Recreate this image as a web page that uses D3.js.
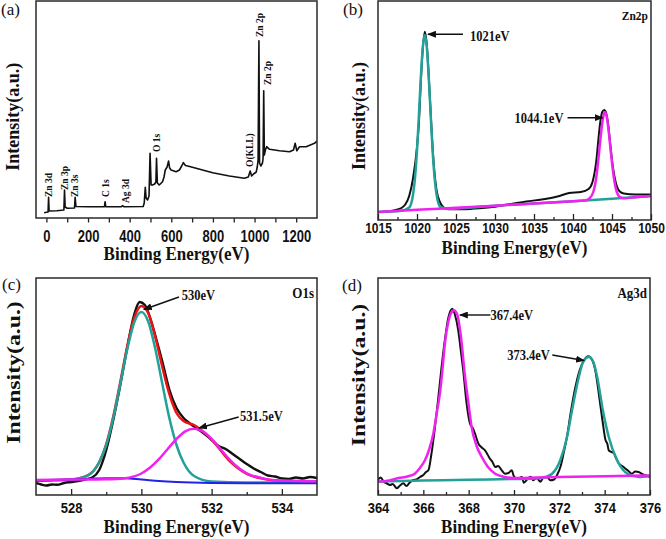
<!DOCTYPE html>
<html>
<head>
<meta charset="utf-8">
<script src="https://cdn.jsdelivr.net/npm/d3@7"></script>
<style>
  body { margin: 0; background: #fff; }
  svg { display: block; }
</style>
</head>
<body>
<div id="xps"></div>
<script>
// --------------------------------------------------
// XPS spectra, four panels (a.u.)

// (a) survey: [binding energy, intensity]
var surveyData = [[-11,5.3],[0,5.7],[8,6],[10.5,20.7],[13,7],[50,7.3],[84,8],[87,28],[90,11],[100,9.7],
    [135,10],[138,20.7],[142,11.5],[200,11.3],[279,11.3],[282,16.3],[285,11.3],[360,11.3],[366,12.3],
    [372,11.3],[465,11.5],[470,15],[475,30.7],[479,20],[486,18],[493,22],[498,64.7],[503,33],[510,33],
    [520,34],[526,36],[529,59.7],[533,35],[542,33],[558,36.3],[565,41],[571,48],[580,51],[587,57],
    [592,50],[599,48],[623,46.3],[639,48],[650,52],[658,55.3],[668,52.5],[679,52],[719,49.7],[799,45.3],
    [879,42],[951,39.7],[970,41],[979,47],[986,42],[995,44],[1008,46],[1013,51],[1017,58],[1021,177.3],
    [1024,55],[1030,52],[1038,55],[1041,60],[1044,127.3],[1047,63],[1052,68],[1058,71.3],[1072,68.7],
    [1120,67.3],[1168,66.3],[1187,68],[1195,74.7],[1203,67.3],[1216,71.3],[1248,71.3],[1288,74.7],[1300,77]];
var surveyTicks = [0, 200, 400, 600, 800, 1000, 1200];
var surveyMinor = [100, 300, 500, 700, 900, 1100];
var surveyPeaks = [
    { name: "Zn 3d", e: 10, i: 21 }, { name: "Zn 3p", e: 87, i: 28 }, { name: "Zn 3s", e: 138, i: 21 },
    { name: "C 1s", e: 283, i: 21 }, { name: "Ag 3d", e: 380, i: 15 }, { name: "O 1s", e: 529, i: 66 },
    { name: "O(KLL)", e: 978, i: 51 }, { name: "Zn 2p", e: 1026, i: 181 }, { name: "Zn 2p", e: 1063, i: 133 }];

// (b) Zn 2p
var zn2pRaw = [[1015,8],[1016,8.5],[1017,9.5],[1017.5,10.5],[1018,12],[1018.5,15.5],[1019,24],[1019.5,42],
    [1020,73],[1020.25,98],[1020.5,140],[1020.75,172],[1021,188.3],[1021.25,176],[1021.5,145],[1021.75,108],
    [1022,72],[1022.5,30],[1023,17],[1023.5,12],[1024,10.7],[1026,10.8],[1028,11.7],[1030,13.3],[1032,16],
    [1034,18.5],[1036,20.5],[1038,23.5],[1039.5,27],[1041,28],[1042,31],[1042.5,38],[1043,60],[1043.25,80],
    [1043.5,98],[1043.75,108],[1044,110],[1044.25,107],[1044.5,96],[1044.75,78],[1045,60],[1045.5,37],
    [1046,28.5],[1046.5,26.5],[1048,25.5],[1050,25.5]];
var zn2pFit1021 = [[1015,8],[1018,9.3],[1019,12.5],[1019.5,25.8],[1019.75,42.7],[1020,69.7],[1020.25,105.4],
    [1020.5,143.6],[1020.75,173.4],[1021,185],[1021.25,173.4],[1021.5,143.6],[1021.75,105.4],[1022,69.7],
    [1022.25,42.7],[1022.5,25.8],[1023,13],[1024,11.2],[1030,14.3],[1035,16.6],[1040,18.8],[1045,21.2],[1050,24]];
var zn2pFit1044 = [[1015,8],[1020,10.2],[1025,12.2],[1030,14.3],[1035,16.6],[1040,18.8],[1041.5,19.5],
    [1042.1,21.5],[1042.6,28],[1042.85,36],[1043.1,50],[1043.35,68],[1043.6,87],[1043.85,102],[1044.1,108],
    [1044.35,102],[1044.6,87],[1044.85,68],[1045.1,50.5],[1045.35,37],[1045.6,28.5],[1046.1,22.5],
    [1046.6,21.8],[1048,22.8],[1050,24]];
var zn2pTicks = [1015, 1020, 1025, 1030, 1035, 1040, 1045, 1050];
var zn2pMinor = [1017.5, 1022.5, 1027.5, 1032.5, 1037.5, 1042.5, 1047.5];
var zn2pNotes = [
    { text: "1021eV", tx: 1026.8, ti: 179, from: [1025.9, 185.7], to: [1021.4, 185.7] },
    { text: "1044.1eV", tx: 1032.5, ti: 97.5, from: [1039.3, 102.3], to: [1043.8, 102.3] }];

// (c) O 1s
var o1sRaw = [[527,12],[527.15,10.5],[527.3,9.5],[527.45,10.5],[527.6,10.2],[527.8,12],[528,13],[528.2,14],
    [528.4,15.5],[528.6,17.5],[528.8,25],[529,45],[529.2,75],[529.4,110],[529.6,148],[529.8,181],[529.95,193],
    [530.1,190],[530.25,177],[530.4,159],[530.6,133],[530.8,105],[531,87],[531.2,77],[531.4,71],[531.6,66],
    [531.8,61],[532,55],[532.2,49],[532.4,46],[532.6,41],[532.8,36],[533,31],[533.2,26.5],[533.4,23],
    [533.6,19.5],[533.8,18.5],[534,16.5],[534.2,16],[534.4,17.5],[534.6,16.5],[534.8,18],[535,17]];
var o1sEnvelope = [[527,14.3],[528,15.6],[528.5,20.2],[529,50.8],[529.2,78.5],[529.4,113],[529.6,149],
    [529.8,177.5],[530,189],[530.2,181.5],[530.4,157.5],[530.6,127.5],[530.8,100.5],[531,82],[531.2,74],
    [531.5,70],[532,55.5],[532.5,34.5],[533,21.2],[533.5,16],[534,14],[535,13.7]];
var o1sFit530 = [[527,14.3],[527.5,14.9],[528,15.6],[528.5,20],[528.8,33],[529,50],[529.2,77],[529.4,111],
    [529.6,146],[529.8,173],[530,183],[530.2,173],[530.4,145.5],[530.6,110.5],[530.8,76.5],[531,50],
    [531.2,32.5],[531.5,19],[532,13.5],[533,12.5],[535,12.5]];
var o1sBackground = [[527,14.3],[528,15.5],[529,16.7],[529.5,16.7],[530,15.5],[530.5,14],[531,13],[532,12],
    [533,11.7],[535,11.7]];
var o1sFit531 = [[527,15],[528,15.4],[529,15.8],[529.5,16.6],[530,21.5],[530.25,27.5],[530.5,35.8],[530.75,46],
    [531,56],[531.25,63.7],[531.5,66.3],[531.75,63.7],[532,56],[532.25,46],[532.5,35.8],[532.75,27.5],
    [533,21.7],[533.5,16.4],[534,14.5],[535,13.7]];
var o1sTicks = [528, 530, 532, 534];
var o1sMinor = [529, 531, 533];
var o1sNotes = [
    { text: "530eV", tx: 531.15, ti: 195, from: [531.07, 198], to: [530.07, 185.5] },
    { text: "531.5eV", tx: 532.81, ti: 74, from: [532.77, 78], to: [531.64, 67] }];

// (d) Ag 3d
var ag3dRaw = [[364,15.5],[364.12,17.5],[364.25,13.5],[364.4,11.5],[364.53,10],[364.65,11],[364.83,6.7],
    [364.95,9],[365.12,11.7],[365.25,9],[365.4,12.5],[365.56,15],[365.7,15.5],[365.85,18],[366,20],[366.12,23],
    [366.23,25],[366.35,40],[366.5,65],[366.65,95],[366.8,127],[366.95,155],[367.1,177],[367.28,186.3],
    [367.4,180],[367.54,164.7],[367.65,145],[367.76,124.7],[367.91,91.3],[368.06,71.3],[368.18,67],
    [368.28,61.3],[368.43,51.3],[368.55,48],[368.72,44.7],[368.94,36.3],[369.05,33],[369.17,28],[369.3,29],
    [369.46,24.7],[369.6,21.3],[369.76,22],[369.9,24.7],[369.99,19],[370.15,16],[370.35,18],[370.43,12.3],
    [370.6,16],[370.73,18.3],[370.85,14.7],[371,17],[371.17,13.3],[371.3,17.5],[371.47,17.7],[371.6,14.7],
    [371.77,15.5],[371.9,20],[372.06,29],[372.2,43],[372.35,60],[372.5,82],[372.7,107],[372.9,125],[373.1,135],
    [373.27,138.7],[373.45,135],[373.6,123],[373.75,100],[373.9,75],[374.04,54.7],[374.12,51],[374.18,44.7],
    [374.3,43],[374.4,42],[374.48,38],[374.63,31.3],[374.78,29],[374.92,26.3],[375.05,24],[375.2,21.3],
    [375.35,23.5],[375.5,23],[375.65,21],[375.8,19.7],[376,18]];
var ag3dFit373 = [[364,13.5],[366,14.4],[368,15.3],[370,16],[371,16.5],[371.23,17],[371.68,21.3],[372.04,34.7],
    [372.34,58],[372.56,84.7],[372.86,118],[373.05,133],[373.3,138],[373.5,133],[373.67,118],[373.92,84.7],
    [374.18,58],[374.55,34.7],[375,21.3],[375.5,18],[376,19]];
var ag3dFit367 = [[364,13.3],[364.5,14.5],[364.9,17],[365.3,18.5],[365.62,21.3],[365.85,27],[366.07,34.7],
    [366.25,45],[366.44,61.3],[366.6,83],[366.73,101.3],[366.85,127],[366.95,151.3],[367.1,173],[367.25,183],
    [367.35,184.7],[367.5,180],[367.65,160],[367.84,118],[368,90],[368.13,68],[368.35,49],[368.58,38],
    [368.85,28],[369.17,21.3],[369.6,18],[370,17],[371,17.5],[372,18],[374,18.8],[376,19.5]];
var ag3dTicks = [364, 366, 368, 370, 372, 374, 376];
var ag3dMinor = [365, 367, 369, 371, 373, 375];
var ag3dNotes = [
    { text: "367.4eV", tx: 368.96, ti: 175, from: [368.96, 180], to: [367.61, 180] },
    { text: "373.4eV", tx: 369.7, ti: 135, from: [371.69, 140], to: [373.09, 134.5] }];

var teal = "#22a09a", magenta = "#f022f0";
var serif = "'Liberation Serif', 'Times New Roman', serif";
var sans = "'Liberation Sans', Arial, sans-serif";

var svg = d3.select("#xps")
    .append("svg")
    .attr("width", 666)
    .attr("height", 539);

svg.append("defs").append("marker")
    .attr("id", "head")
    .attr("markerUnits", "userSpaceOnUse")
    .attr("markerWidth", 9)
    .attr("markerHeight", 7)
    .attr("refX", 8)
    .attr("refY", 3.5)
    .attr("orient", "auto")
    .append("path")
    .attr("d", "M0,0 L9,3.5 L0,7 Z")
    .attr("fill", "#111");

function drawPanel(p) {
    var g = svg.append("g");

    var x = d3.scaleLinear().domain(p.xDomain).range([p.left, p.right]);
    var y = d3.scaleLinear().domain(p.yDomain).range([p.bottom, p.top]);

    g.append("clipPath")
        .attr("id", "clip-" + p.id)
        .append("rect")
        .attr("x", p.left)
        .attr("y", p.top)
        .attr("width", p.right - p.left)
        .attr("height", p.bottom - p.top);

    var line = d3.line()
        .x(function(d) { return x(d[0]); })
        .y(function(d) { return y(d[1]); });

    // spectra and fits
    p.series.forEach(function(s) {
        g.append("path")
            .datum(s.data)
            .attr("clip-path", "url(#clip-" + p.id + ")")
            .attr("d", line.curve(s.curve || d3.curveMonotoneX))
            .attr("fill", "none")
            .attr("stroke", s.color)
            .attr("stroke-width", s.width)
            .attr("stroke-linejoin", "round");
    });

    // x axis, ticks inward or outward
    var dir = p.inward ? -1 : 1;
    var xAxisCall = d3.axisBottom(x)
        .tickValues(p.ticks)
        .tickSize(dir * p.majorLen)
        .tickPadding(0)
        .tickFormat(d3.format("d"));
    var ax = g.append("g")
        .attr("class", "x-axis")
        .attr("transform", "translate(0, " + p.bottom + ")")
        .call(xAxisCall);
    ax.select(".domain").remove();
    ax.selectAll("line").attr("stroke", "#222").attr("stroke-width", 1.3);
    ax.selectAll("text")
        .attr("y", 0)
        .attr("dy", 0)
        .attr("fill", "#111")
        .attr("font-family", sans)
        .attr("font-weight", "bold")
        .attr("font-size", p.tickFont + "px")
        .attr("transform", "translate(0, " + (p.tickBase - p.bottom) + ") scale(1, " + p.tickStretch + ")");

    var minorCall = d3.axisBottom(x)
        .tickValues(p.minor)
        .tickSize(dir * p.minorLen)
        .tickFormat("");
    var mx = g.append("g")
        .attr("transform", "translate(0, " + p.bottom + ")")
        .call(minorCall);
    mx.select(".domain").remove();
    mx.selectAll("line").attr("stroke", "#222").attr("stroke-width", 1.3);

    // frame
    g.append("rect")
        .attr("x", p.left)
        .attr("y", p.top)
        .attr("width", p.right - p.left)
        .attr("height", p.bottom - p.top)
        .attr("fill", "none")
        .attr("stroke", "#2a2a2a")
        .attr("stroke-width", 1.5);

    // x label
    g.append("text")
        .attr("class", "x axis-label")
        .attr("text-anchor", "middle")
        .attr("font-family", serif)
        .attr("font-weight", "bold")
        .attr("font-size", "17px")
        .attr("fill", "#111")
        .attr("transform", "translate(" + ((p.left + p.right) / 2) + ", " + p.titleBase +
            ") scale(1, " + p.titleStretch + ")")
        .text("Binding Energy(eV)");

    // y label
    g.append("text")
        .attr("class", "y axis-label")
        .attr("text-anchor", "middle")
        .attr("font-family", serif)
        .attr("font-weight", "bold")
        .attr("font-size", "18px")
        .attr("fill", "#111")
        .attr("transform", "translate(" + p.yTitle[0] + ", " + p.yTitle[1] + ") rotate(-90) scale(" +
            p.yStretch + ", 1)")
        .text("Intensity(a.u.)");

    // panel letter
    g.append("text")
        .attr("x", p.letter[0])
        .attr("y", p.letter[1])
        .attr("font-family", serif)
        .attr("font-size", "17px")
        .attr("fill", "#111")
        .text(p.letterText);

    // region name, top right
    if (p.name) {
        g.append("text")
            .attr("text-anchor", "end")
            .attr("font-family", serif)
            .attr("font-weight", "bold")
            .attr("font-size", p.nameFont + "px")
            .attr("fill", "#111")
            .attr("transform", "translate(" + (p.right - 3) + ", " + p.nameBase + ") scale(1, 1.15)")
            .text(p.name);
    }

    // peak notes with arrows
    (p.notes || []).forEach(function(n) {
        g.append("line")
            .attr("x1", x(n.from[0]))
            .attr("y1", y(n.from[1]))
            .attr("x2", x(n.to[0]))
            .attr("y2", y(n.to[1]))
            .attr("stroke", "#111")
            .attr("stroke-width", 1.4)
            .attr("marker-end", "url(#head)");
        g.append("text")
            .attr("font-family", serif)
            .attr("font-weight", "bold")
            .attr("font-size", p.noteFont + "px")
            .attr("fill", "#111")
            .attr("transform", "translate(" + x(n.tx) + ", " + y(n.ti) + ") scale(1, 1.15)")
            .text(n.text);
    });

    return { x: x, y: y, g: g };
}

// (a)
var pa = drawPanel({
    id: "a", xDomain: [-50, 1300], yDomain: [0, 217],
    left: 36, right: 317, top: 1, bottom: 218,
    series: [{ data: surveyData, color: "#111", width: 1.6, curve: d3.curveLinear }],
    ticks: surveyTicks, minor: surveyMinor, inward: false, majorLen: 4.5, minorLen: 4.5,
    tickFont: 13, tickBase: 241.5, tickStretch: 1.2,
    titleBase: 260, titleStretch: 1.1,
    yTitle: [19, 116.7], yStretch: 1,
    letter: [1, 15], letterText: "(a)"
});

pa.g.selectAll(".peak")
    .data(surveyPeaks)
    .enter()
    .append("text")
    .attr("class", "peak")
    .attr("font-family", serif)
    .attr("font-weight", "bold")
    .attr("font-size", "9.5px")
    .attr("fill", "#111")
    .attr("transform", function(d) {
        return "translate(" + (pa.x(d.e) + 3.2) + ", " + pa.y(d.i) + ") rotate(-90)";
    })
    .text(function(d) { return d.name; });

// (b)
drawPanel({
    id: "b", xDomain: [1015, 1050], yDomain: [0, 219],
    left: 378, right: 651, top: 1, bottom: 220,
    series: [
        { data: zn2pRaw, color: "#111", width: 2 },
        { data: zn2pFit1021, color: teal, width: 2.5 },
        { data: zn2pFit1044, color: magenta, width: 2.5 }],
    ticks: zn2pTicks, minor: zn2pMinor, inward: true, majorLen: 6, minorLen: 3,
    tickFont: 12, tickBase: 233, tickStretch: 1.25,
    titleBase: 254, titleStretch: 1.1,
    yTitle: [365, 116], yStretch: 1,
    letter: [343, 15], letterText: "(b)",
    name: "Zn2p", nameFont: 11.5, nameBase: 19.5,
    notes: zn2pNotes, noteFont: 12.5
});

// (c)
drawPanel({
    id: "c", xDomain: [527, 535], yDomain: [0, 217],
    left: 36, right: 317, top: 278, bottom: 495,
    series: [
        { data: o1sRaw, color: "#111", width: 2.4 },
        { data: o1sEnvelope, color: "#ee1111", width: 2.5 },
        { data: o1sFit530, color: teal, width: 2.5 },
        { data: o1sBackground, color: "#2323e6", width: 2 },
        { data: o1sFit531, color: magenta, width: 2.5 }],
    ticks: o1sTicks, minor: o1sMinor, inward: true, majorLen: 6, minorLen: 3,
    tickFont: 13, tickBase: 512.5, tickStretch: 1.15,
    titleBase: 533, titleStretch: 1.1,
    yTitle: [20, 372.5], yStretch: 1.32,
    letter: [2, 290], letterText: "(c)",
    name: "O1s", nameFont: 13, nameBase: 298,
    notes: o1sNotes, noteFont: 12.5
});

// (d)
drawPanel({
    id: "d", xDomain: [364, 376], yDomain: [0, 217],
    left: 378, right: 650, top: 278, bottom: 495,
    series: [
        { data: ag3dRaw, color: "#111", width: 2 },
        { data: ag3dFit373, color: teal, width: 2.5 },
        { data: ag3dFit367, color: magenta, width: 2.5 }],
    ticks: ag3dTicks, minor: ag3dMinor, inward: true, majorLen: 5, minorLen: 3,
    tickFont: 13, tickBase: 512.5, tickStretch: 1.1,
    titleBase: 533, titleStretch: 1.1,
    yTitle: [365, 375], yStretch: 1.32,
    letter: [342, 291], letterText: "(d)",
    name: "Ag3d", nameFont: 13, nameBase: 298,
    notes: ag3dNotes, noteFont: 12.5
});
</script>
</body>
</html>
